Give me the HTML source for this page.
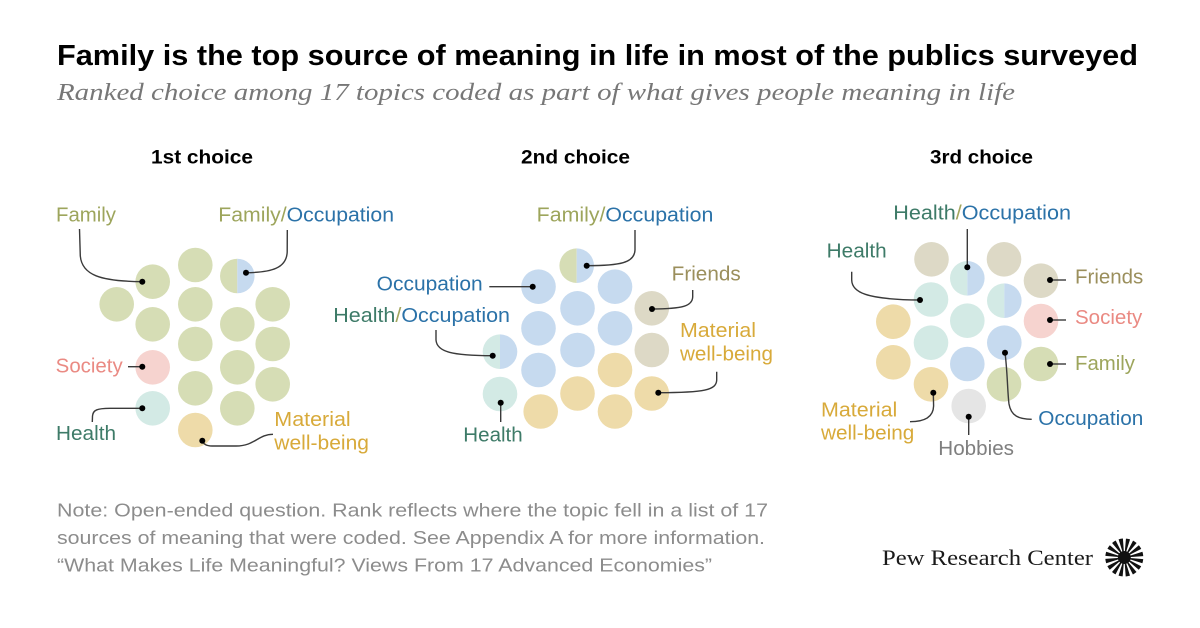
<!DOCTYPE html>
<html><head><meta charset="utf-8"><style>
html,body{margin:0;padding:0;background:#fff;}
svg{display:block;}
.lab{font-family:"Liberation Sans",Arial,sans-serif;font-size:20px;}
.ld{fill:none;stroke:#3a3a3a;stroke-width:1.4;}
</style></head><body>
<svg width="1200" height="628" viewBox="0 0 1200 628" xmlns="http://www.w3.org/2000/svg">
<rect width="1200" height="628" fill="#fff"/>
<text x="57" y="65" font-family="Liberation Sans, Arial, sans-serif" font-weight="bold" font-size="29" fill="#000" textLength="1081" lengthAdjust="spacingAndGlyphs">Family is the top source of meaning in life in most of the publics surveyed</text>
<text x="57" y="100" font-family="Liberation Serif, serif" font-style="italic" font-size="24" fill="#777" textLength="958" lengthAdjust="spacingAndGlyphs">Ranked choice among 17 topics coded as part of what gives people meaning in life</text>

<g font-family="Liberation Sans, Arial, sans-serif" font-weight="bold" font-size="19" fill="#000">
<text x="151" y="163.5" textLength="102" lengthAdjust="spacingAndGlyphs">1st choice</text>
<text x="521" y="163.5" textLength="109" lengthAdjust="spacingAndGlyphs">2nd choice</text>
<text x="930" y="163.5" textLength="103" lengthAdjust="spacingAndGlyphs">3rd choice</text>
</g>

<!-- Cluster 1 circles -->
<g>
<circle cx="116.7" cy="304.3" r="17.3" fill="#d6ddb5"/>
<circle cx="152.7" cy="281.7" r="17.3" fill="#d6ddb5"/>
<circle cx="152.7" cy="324.3" r="17.3" fill="#d6ddb5"/>
<circle cx="152.7" cy="367.3" r="17.3" fill="#f6d3cf"/>
<circle cx="152.7" cy="408.3" r="17.3" fill="#d3eae5"/>
<circle cx="195.3" cy="265" r="17.3" fill="#d6ddb5"/>
<circle cx="195.3" cy="304.3" r="17.3" fill="#d6ddb5"/>
<circle cx="195.3" cy="344" r="17.3" fill="#d6ddb5"/>
<circle cx="195.3" cy="388.3" r="17.3" fill="#d6ddb5"/>
<circle cx="195.3" cy="430" r="17.3" fill="#eedba9"/>
<path d="M237.3,258.7 A17.3,17.3 0 0 0 237.3,293.3 Z" fill="#d6ddb5"/>
<path d="M237.3,258.7 A17.3,17.3 0 0 1 237.3,293.3 Z" fill="#c6daef"/>
<circle cx="237.3" cy="324.3" r="17.3" fill="#d6ddb5"/>
<circle cx="237.3" cy="367.3" r="17.3" fill="#d6ddb5"/>
<circle cx="237.3" cy="408.3" r="17.3" fill="#d6ddb5"/>
<circle cx="272.7" cy="304.3" r="17.3" fill="#d6ddb5"/>
<circle cx="272.7" cy="344" r="17.3" fill="#d6ddb5"/>
<circle cx="272.7" cy="384.3" r="17.3" fill="#d6ddb5"/>
</g>
<g>
<path class="ld" d="M79.5,229 L80.3,256 C82,275 100,281.2 142.3,281.7"/>
<path class="ld" d="M287.3,230 L287.2,252 C286.5,268 272,272.5 246,272.7"/>
<path class="ld" d="M128,366.7 L142.3,366.7"/>
<path class="ld" d="M92.3,422 L92.5,416 C93,410 97,408.4 110,408.3 L142.3,408.3"/>
<path class="ld" d="M202.3,440.7 Q204,446 212,446 L236,446 C255,446 258,434.3 273,434.3"/>
</g>
<g fill="#000">
<circle cx="142.3" cy="281.7" r="3"/>
<circle cx="246" cy="272.7" r="3"/>
<circle cx="142.3" cy="366.7" r="3"/>
<circle cx="142.3" cy="408.3" r="3"/>
<circle cx="202.3" cy="440.7" r="3"/>
</g>
<g class="lab">
<text x="56" y="221.7" fill="#9da55c" textLength="60" lengthAdjust="spacingAndGlyphs">Family</text>
<text x="218.3" y="221.7" textLength="175.7" lengthAdjust="spacingAndGlyphs"><tspan fill="#9da55c">Family/</tspan><tspan fill="#2b72a8">Occupation</tspan></text>
<text x="55.7" y="372.7" fill="#ea8a83" textLength="67" lengthAdjust="spacingAndGlyphs">Society</text>
<text x="56" y="440" fill="#3e7b68" textLength="60" lengthAdjust="spacingAndGlyphs">Health</text>
<text x="274.3" y="426" fill="#d8aa3a" textLength="76.4" lengthAdjust="spacingAndGlyphs">Material</text>
<text x="274.3" y="449.3" fill="#d8aa3a" textLength="94.7" lengthAdjust="spacingAndGlyphs">well-being</text>
</g>

<!-- Cluster 2 circles -->
<g>
<path d="M576.7,248.4 A17.3,17.3 0 0 0 576.7,283 Z" fill="#d6ddb5"/>
<path d="M576.7,248.4 A17.3,17.3 0 0 1 576.7,283 Z" fill="#c6daef"/>
<circle cx="538.5" cy="286.7" r="17.3" fill="#c6daef"/>
<circle cx="615" cy="286.7" r="17.3" fill="#c6daef"/>
<circle cx="577.5" cy="308.3" r="17.3" fill="#c6daef"/>
<circle cx="651.8" cy="308.3" r="17.3" fill="#ddd9c6"/>
<circle cx="538.5" cy="328.3" r="17.3" fill="#c6daef"/>
<circle cx="615" cy="328.3" r="17.3" fill="#c6daef"/>
<path d="M500,334.4 A17.3,17.3 0 0 0 500,369 Z" fill="#d3eae5"/>
<path d="M500,334.4 A17.3,17.3 0 0 1 500,369 Z" fill="#c6daef"/>
<circle cx="577.5" cy="350" r="17.3" fill="#c6daef"/>
<circle cx="651.8" cy="350" r="17.3" fill="#ddd9c6"/>
<circle cx="538.5" cy="370" r="17.3" fill="#c6daef"/>
<circle cx="615" cy="370" r="17.3" fill="#eedba9"/>
<circle cx="500" cy="394" r="17.3" fill="#d3eae5"/>
<circle cx="577.5" cy="393.5" r="17.3" fill="#eedba9"/>
<circle cx="651.8" cy="393.5" r="17.3" fill="#eedba9"/>
<circle cx="540.7" cy="411.5" r="17.3" fill="#eedba9"/>
<circle cx="615" cy="411.5" r="17.3" fill="#eedba9"/>
</g>
<g>
<path class="ld" d="M635,230 L635,250 C634.5,263 620,265.6 586.7,265.7"/>
<path class="ld" d="M489.3,286.7 L532.7,286.7"/>
<path class="ld" d="M692.7,290 L692.7,297 C692.3,306 683,308.8 652,309"/>
<path class="ld" d="M716.7,371.7 L716.7,380 C716.3,390 705,392.6 658.3,392.7"/>
<path class="ld" d="M436,330 L436,340 C436.8,352 452,355.5 492.7,355.7"/>
<path class="ld" d="M500.7,402.7 L500.7,422"/>
</g>
<g fill="#000">
<circle cx="586.7" cy="265.7" r="3"/>
<circle cx="532.7" cy="286.7" r="3"/>
<circle cx="652" cy="309" r="3"/>
<circle cx="658.3" cy="392.7" r="3"/>
<circle cx="492.7" cy="355.7" r="3"/>
<circle cx="500.7" cy="402.7" r="3"/>
</g>
<g class="lab">
<text x="536.7" y="221.7" textLength="176.6" lengthAdjust="spacingAndGlyphs"><tspan fill="#9da55c">Family/</tspan><tspan fill="#2b72a8">Occupation</tspan></text>
<text x="376.7" y="290.5" fill="#2b72a8" textLength="106" lengthAdjust="spacingAndGlyphs">Occupation</text>
<text x="671.7" y="280.7" fill="#9b8f5c" textLength="69" lengthAdjust="spacingAndGlyphs">Friends</text>
<text x="680" y="337" fill="#d8aa3a" textLength="76" lengthAdjust="spacingAndGlyphs">Material</text>
<text x="680" y="360.3" fill="#d8aa3a" textLength="93" lengthAdjust="spacingAndGlyphs">well-being</text>
<text x="333.3" y="322" textLength="176.7" lengthAdjust="spacingAndGlyphs"><tspan fill="#3e7b68">Health</tspan><tspan fill="#a3a65e">/</tspan><tspan fill="#2b72a8">Occupation</tspan></text>
<text x="463.3" y="441.7" fill="#3e7b68" textLength="59.4" lengthAdjust="spacingAndGlyphs">Health</text>
</g>

<!-- Cluster 3 circles -->
<g>
<circle cx="931.5" cy="259.3" r="17.3" fill="#ddd9c6"/>
<path d="M967.3,261 A17.3,17.3 0 0 0 967.3,295.6 Z" fill="#d3eae5"/>
<path d="M967.3,261 A17.3,17.3 0 0 1 967.3,295.6 Z" fill="#c6daef"/>
<circle cx="1004" cy="259.3" r="17.3" fill="#ddd9c6"/>
<circle cx="1041" cy="280.7" r="17.3" fill="#ddd9c6"/>
<circle cx="931" cy="299.5" r="17.3" fill="#d3eae5"/>
<path d="M1004.3,283.4 A17.3,17.3 0 0 0 1004.3,318 Z" fill="#d3eae5"/>
<path d="M1004.3,283.4 A17.3,17.3 0 0 1 1004.3,318 Z" fill="#c6daef"/>
<circle cx="1041" cy="321" r="17.3" fill="#f6d3cf"/>
<circle cx="893.3" cy="321.7" r="17.3" fill="#eedba9"/>
<circle cx="967.3" cy="320.7" r="17.3" fill="#d3eae5"/>
<circle cx="931" cy="342.7" r="17.3" fill="#d3eae5"/>
<circle cx="1004.3" cy="342.7" r="17.3" fill="#c6daef"/>
<circle cx="1041" cy="364" r="17.3" fill="#d6ddb5"/>
<circle cx="893.3" cy="362.3" r="17.3" fill="#eedba9"/>
<circle cx="967.3" cy="364" r="17.3" fill="#c6daef"/>
<circle cx="931" cy="384.3" r="17.3" fill="#eedba9"/>
<circle cx="1004" cy="384.3" r="17.3" fill="#d6ddb5"/>
<circle cx="968.7" cy="406" r="17.3" fill="#e5e5e5"/>
</g>
<g>
<path class="ld" d="M967.3,229 L967.3,267.3"/>
<path class="ld" d="M851.7,271.7 L851.7,280 C852,292 865,299.6 920,300"/>
<path class="ld" d="M1050,280 L1066,280"/>
<path class="ld" d="M1050,320 L1066,320"/>
<path class="ld" d="M1050,364 L1066,364"/>
<path class="ld" d="M1005,352.7 C1007.5,372 1007.5,393 1009,404 C1011,416 1019,419.3 1031.7,419.3"/>
<path class="ld" d="M933.3,392.7 L933.6,406 C933.3,417 925,421.7 910,421.7"/>
<path class="ld" d="M968.7,416.7 L968.7,435"/>
</g>
<g fill="#000">
<circle cx="967.3" cy="267.3" r="3"/>
<circle cx="920" cy="300" r="3"/>
<circle cx="1050" cy="280" r="3"/>
<circle cx="1050" cy="320" r="3"/>
<circle cx="1050" cy="364" r="3"/>
<circle cx="1005" cy="352.7" r="3"/>
<circle cx="933.3" cy="392.7" r="3"/>
<circle cx="968.7" cy="416.7" r="3"/>
</g>
<g class="lab">
<text x="893.3" y="219.5" textLength="177.7" lengthAdjust="spacingAndGlyphs"><tspan fill="#3e7b68">Health</tspan><tspan fill="#a3a65e">/</tspan><tspan fill="#2b72a8">Occupation</tspan></text>
<text x="826.7" y="257.7" fill="#3e7b68" textLength="60" lengthAdjust="spacingAndGlyphs">Health</text>
<text x="1075" y="283.5" fill="#9b8f5c" textLength="68.3" lengthAdjust="spacingAndGlyphs">Friends</text>
<text x="1075" y="324" fill="#ea8a83" textLength="67.3" lengthAdjust="spacingAndGlyphs">Society</text>
<text x="1075" y="370" fill="#9da55c" textLength="60" lengthAdjust="spacingAndGlyphs">Family</text>
<text x="1038.3" y="425" fill="#2b72a8" textLength="105" lengthAdjust="spacingAndGlyphs">Occupation</text>
<text x="821" y="416.7" fill="#d8aa3a" textLength="76.3" lengthAdjust="spacingAndGlyphs">Material</text>
<text x="821" y="439.5" fill="#d8aa3a" textLength="93.3" lengthAdjust="spacingAndGlyphs">well-being</text>
<text x="938.3" y="455" fill="#7f7f7f" textLength="75.7" lengthAdjust="spacingAndGlyphs">Hobbies</text>
</g>

<!-- Footer -->
<g font-family="Liberation Sans, Arial, sans-serif" font-size="18.5" fill="#8c8c8c">
<text x="57" y="516.5" textLength="711" lengthAdjust="spacingAndGlyphs">Note: Open-ended question. Rank reflects where the topic fell in a list of 17</text>
<text x="57" y="544" textLength="708" lengthAdjust="spacingAndGlyphs">sources of meaning that were coded. See Appendix A for more information.</text>
<text x="57" y="571.7" textLength="655" lengthAdjust="spacingAndGlyphs">“What Makes Life Meaningful? Views From 17 Advanced Economies”</text>
</g>

<!-- Logo -->
<text x="882" y="565" font-family="Liberation Serif, serif" font-size="22" fill="#1a1a1a" textLength="211" lengthAdjust="spacingAndGlyphs">Pew Research Center</text>
<g transform="translate(1124.3,557.5)">
<circle r="9.5" fill="none" stroke="#111" stroke-width="19" pathLength="32" stroke-dasharray="1.15 0.85" transform="rotate(-85)"/>
<circle r="6.5" fill="#111"/>
</g>
</svg>
</body></html>
